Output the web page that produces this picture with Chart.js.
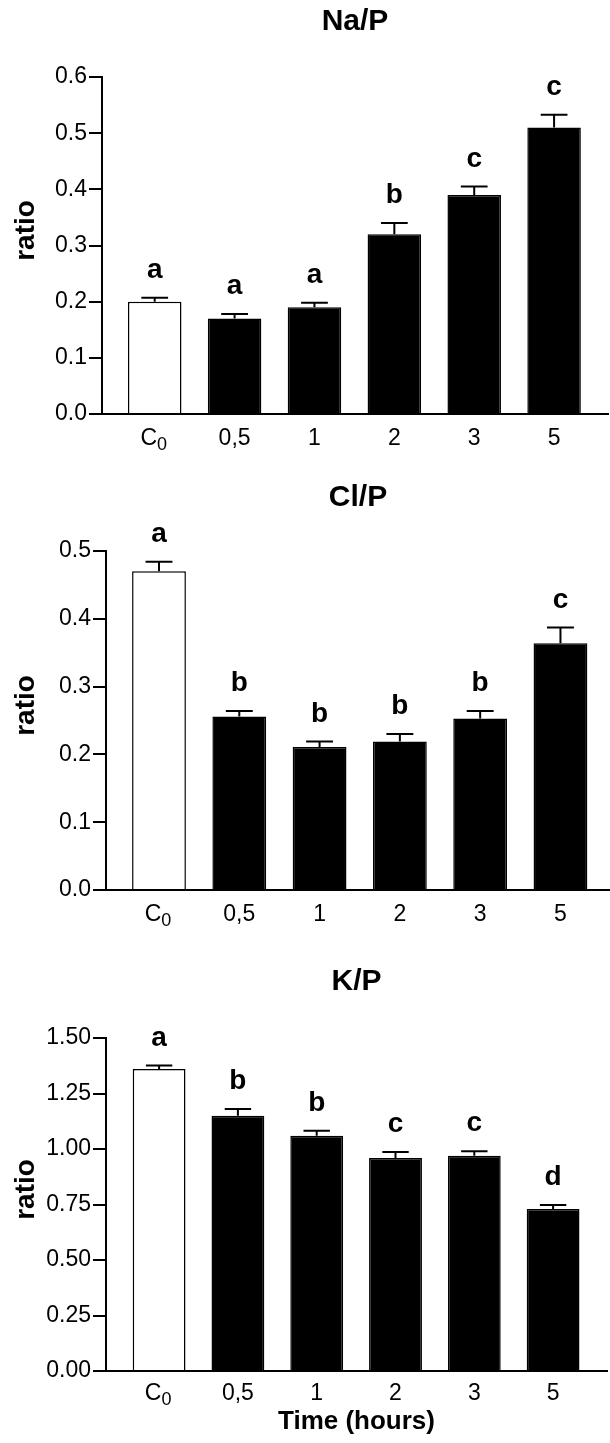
<!DOCTYPE html>
<html>
<head>
<meta charset="utf-8">
<script src="https://cdn.jsdelivr.net/npm/chart.js@4.4.1/dist/chart.umd.min.js"></script>
<style>
  body { margin: 0; background: #fff; }
  canvas { display: block; }
</style>
</head>
<body>
<canvas id="naChart" width="610" height="470"></canvas>
<canvas id="clChart" width="610" height="490"></canvas>
<canvas id="kChart" width="610" height="483"></canvas>
<script>
// time points, "_" marks a subscript (C0 = control)
const categories = ['C_0', '0,5', '1', '2', '3', '5'];

const naValues = [0.20, 0.17, 0.19, 0.32, 0.39, 0.51];
const naErrors = [0.007, 0.008, 0.008, 0.02, 0.015, 0.023];
const naLetters = ['a', 'a', 'a', 'b', 'c', 'c'];

const clValues = [0.47, 0.256, 0.211, 0.219, 0.253, 0.364];
const clErrors = [0.014, 0.008, 0.008, 0.011, 0.011, 0.023];
const clLetters = ['a', 'b', 'b', 'b', 'b', 'c'];

const kValues = [1.36, 1.15, 1.06, 0.96, 0.97, 0.73];
const kErrors = [0.016, 0.03, 0.022, 0.026, 0.02, 0.018];
const kLetters = ['a', 'b', 'b', 'c', 'c', 'd'];

const FONT = '"Liberation Sans", Arial, Helvetica, sans-serif';
const TICK_SIZE = 23;

// error bars (upper half only), significance letters, subscript labels and the y title
const barExtras = {
  id: 'barExtras',
  afterDatasetsDraw(chart) {
    const ctx = chart.ctx;
    const yScale = chart.scales.y;
    const ds = chart.data.datasets[0];
    const bars = chart.getDatasetMeta(0).data;
    ctx.save();
    ctx.strokeStyle = '#000';
    ctx.fillStyle = '#000';
    ctx.lineWidth = 2;
    bars.forEach((bar, i) => {
      const top = yScale.getPixelForValue(ds.data[i].y + ds.errors[i]);
      const half = bar.width / 4;
      ctx.beginPath();
      ctx.moveTo(bar.x, bar.y);
      ctx.lineTo(bar.x, top);
      ctx.moveTo(bar.x - half, top);
      ctx.lineTo(bar.x + half, top);
      ctx.stroke();
      ctx.font = 'bold 28px ' + FONT;
      ctx.textAlign = 'center';
      ctx.textBaseline = 'alphabetic';
      ctx.fillText(ds.letters[i], bar.x, top - 20);
    });
    ctx.restore();
  },
  afterDraw(chart) {
    const ctx = chart.ctx;
    const xScale = chart.scales.x;
    ctx.save();
    ctx.fillStyle = '#000';
    ctx.textBaseline = 'middle';
    ctx.textAlign = 'left';
    // labels with a subscript part
    const yMid = xScale.top + xScale.options.ticks.padding + TICK_SIZE * 0.6;
    xScale.ticks.forEach((t) => {
      const label = categories[t.value];
      if (!label || label.indexOf('_') < 0) return;
      const [base, sub] = label.split('_');
      ctx.font = TICK_SIZE + 'px ' + FONT;
      const wb = ctx.measureText(base).width;
      ctx.font = '18px ' + FONT;
      const ws = ctx.measureText(sub).width;
      const x0 = xScale.getPixelForValue(t.value) - (wb + ws) / 2 - 1;
      ctx.font = TICK_SIZE + 'px ' + FONT;
      ctx.fillText(base, x0, yMid);
      ctx.font = '18px ' + FONT;
      ctx.fillText(sub, x0 + wb, yMid + 6);
    });
    // y axis title
    const area = chart.chartArea;
    ctx.translate(26, (area.top + area.bottom) / 2 - 15);
    ctx.rotate(-Math.PI / 2);
    ctx.font = 'bold 28px ' + FONT;
    ctx.textAlign = 'center';
    ctx.fillText('ratio', 0, 0);
    ctx.restore();
  }
};

function drawPanel(id, cfg) {
  return new Chart(document.getElementById(id), {
    type: 'bar',
    data: {
      datasets: [{
        data: cfg.values.map((v, i) => ({ x: i, y: v })),
        errors: cfg.errors,
        letters: cfg.letters,
        backgroundColor: cfg.values.map((v, i) => (i === 0 ? '#fff' : '#000')),
        borderColor: '#000',
        borderWidth: 1.5,
        barPercentage: 0.67,
        categoryPercentage: 1
      }]
    },
    options: {
      responsive: false,
      animation: false,
      layout: { padding: { left: 0, right: cfg.padRight, top: 0, bottom: 0 } },
      plugins: {
        legend: { display: false },
        tooltip: { enabled: false },
        title: {
          display: true,
          text: cfg.title,
          fullSize: false,
          color: '#000',
          font: { family: FONT, size: 30, weight: 'bold', lineHeight: 1.2 },
          padding: { top: cfg.titleTop, bottom: cfg.titleBottom }
        }
      },
      scales: {
        x: {
          type: 'linear',
          offset: false,
          min: cfg.xMin,
          max: cfg.xMax,
          grid: { display: false, drawTicks: false },
          border: { color: '#000', width: 2 },
          ticks: {
            stepSize: 1,
            includeBounds: false,
            color: '#000',
            padding: cfg.xTickPad,
            font: { family: FONT, size: TICK_SIZE },
            callback: (v) => {
              const label = categories[v];
              return label && label.indexOf('_') < 0 ? label : '';
            }
          },
          title: {
            display: !!cfg.xTitle,
            text: cfg.xTitle || '',
            color: '#000',
            font: { family: FONT, size: 26, weight: 'bold', lineHeight: 1.2 },
            padding: { top: 0, bottom: 6 }
          },
          afterFit: (s) => { s.height = cfg.xHeight; }
        },
        y: {
          min: 0,
          max: cfg.yMax,
          grid: { display: true, drawOnChartArea: false, drawTicks: true, tickLength: 13, color: '#000', lineWidth: 2 },
          border: { color: '#000', width: 2 },
          ticks: {
            stepSize: cfg.yStep,
            color: '#000',
            padding: 2,
            font: { family: FONT, size: TICK_SIZE },
            callback: (v) => v.toFixed(cfg.decimals)
          },
          afterFit: (s) => { s.width = cfg.yWidth; }
        }
      }
    },
    plugins: [barExtras]
  });
}

drawPanel('naChart', {
  title: 'Na/P', values: naValues, errors: naErrors, letters: naLetters,
  yMax: 0.6, yStep: 0.1, decimals: 1,
  xMin: -0.66, xMax: 5.675, padRight: 2, yWidth: 102, xHeight: 56, xTickPad: 11,
  titleTop: 4, titleBottom: 37
});

drawPanel('clChart', {
  title: 'Cl/P', values: clValues, errors: clErrors, letters: clLetters,
  yMax: 0.5, yStep: 0.1, decimals: 1,
  xMin: -0.66, xMax: 5.617, padRight: 0, yWidth: 106, xHeight: 70, xTickPad: 11,
  titleTop: 10, titleBottom: 35
});

drawPanel('kChart', {
  title: 'K/P', values: kValues, errors: kErrors, letters: kLetters,
  yMax: 1.5, yStep: 0.25, decimals: 2,
  xMin: -0.674, xMax: 5.684, padRight: 3, yWidth: 106, xHeight: 72, xTickPad: 9,
  titleTop: 4, titleBottom: 38, xTitle: 'Time (hours)'
});
</script>
</body>
</html>
